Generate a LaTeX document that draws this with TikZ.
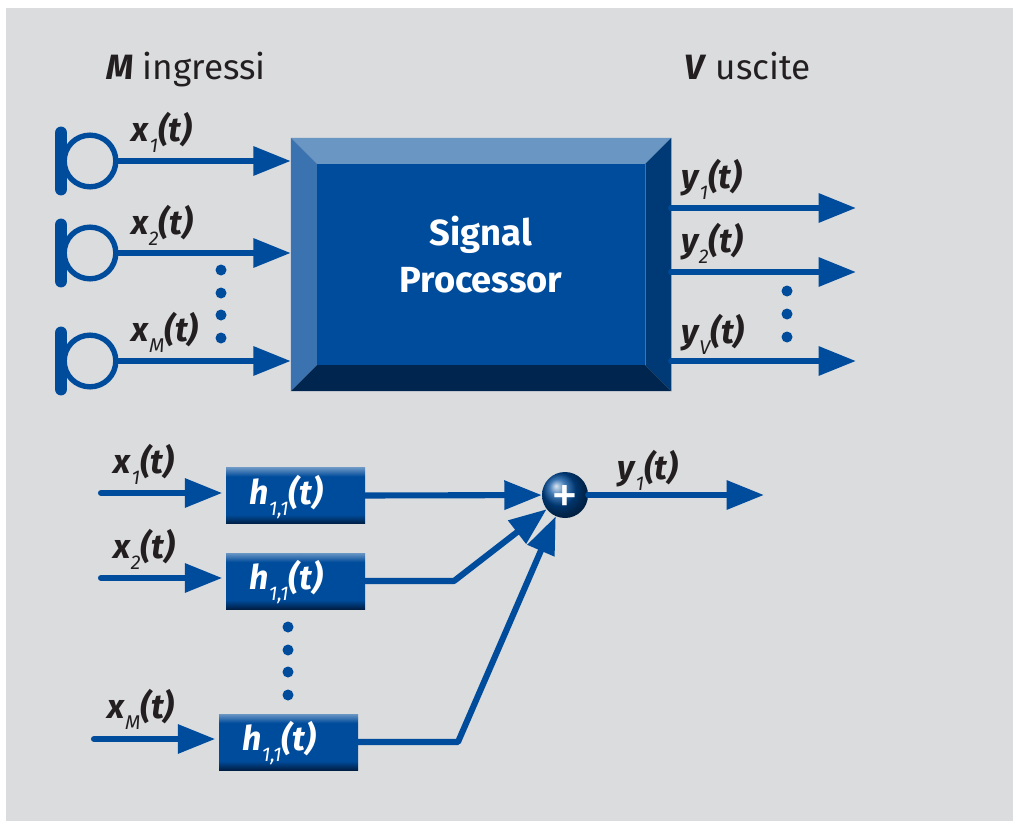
\documentclass[tikz,border=0pt]{standalone}
\usepackage{fontspec}
\setmainfont{Fira Sans}
\usetikzlibrary{arrows.meta}
\definecolor{panel}{HTML}{DADCDE}
\definecolor{sigblue}{HTML}{004C9C}
\definecolor{bevtop}{HTML}{6A96C4}
\definecolor{bevleft}{HTML}{3B72B0}
\definecolor{bevright}{HTML}{003A76}
\definecolor{bevbot}{HTML}{00264F}
\definecolor{boxlight}{HTML}{6A96C4}
\definecolor{boxdark}{HTML}{001F45}
\definecolor{labelink}{HTML}{231F20}
\pgfdeclareverticalshading{hboxshade}{100bp}{color(0bp)=(boxdark); color(25bp)=(boxdark); color(33bp)=(sigblue); color(67bp)=(sigblue); color(75bp)=(boxlight); color(100bp)=(boxlight)}
\newcommand{\sigl}[2]{{\bfseries\itshape #1\kern0.5pt\raisebox{-0.6ex}{\mdseries\fontsize{17}{17}\selectfont #2}(t)}}

\begin{document}
\begin{tikzpicture}[x=0.03cm,y=-0.03cm]
    \tikzset{wire/.style = {draw=sigblue, line width=5.2pt, line cap=round, -{Triangle[length=32pt,width=24pt]}}}
    \tikzset{mic/.style = {shape=circle, draw=sigblue, line width=4.6pt, minimum size=1.55cm, inner sep=0pt}}
    \tikzset{micbar/.style = {draw=sigblue, line width=11pt, line cap=round}}
    \tikzset{hbox/.style = {shape=rectangle, shading=hboxshade, minimum width=4.17cm, minimum height=1.68cm, inner sep=0pt}}
    \tikzset{hlab/.style = {text=white, inner sep=0pt, font=\fontsize{29}{29}\selectfont}}
    \tikzset{sig/.style = {text=labelink, inner sep=0pt, font=\fontsize{29}{29}\selectfont}}
    \tikzset{head/.style = {text=labelink, inner sep=0pt, anchor=base west, font=\fontsize{30}{30}\selectfont}}
    \tikzset{dot/.style = {shape=circle, fill=sigblue, minimum size=0.33cm, inner sep=0pt}}

    \useasboundingbox (0,0) rectangle (1013,821);
    \fill[panel] (6,8) rectangle (1013,821);

    % headings
    \node[head] (ingressi) at (106,80) {\textbf{\textit{M}} ingressi};
    \node[head] (uscite) at (684,80) {\textbf{\textit{V}} uscite};

    % signal processor
    \node[minimum width=11.4cm, minimum height=7.59cm, inner sep=0pt] (proc) at (481,264.5) {};
    \node[minimum width=9.84cm, minimum height=6.03cm, inner sep=0pt, fill=sigblue] (core) at (481,264.5) {};
    \fill[bevtop] (proc.north west) -- (proc.north east) -- (core.north east) -- (core.north west) -- cycle;
    \fill[bevleft] (proc.north west) -- (core.north west) -- (core.south west) -- (proc.south west) -- cycle;
    \fill[bevright] (proc.north east) -- (core.north east) -- (core.south east) -- (proc.south east) -- cycle;
    \fill[bevbot] (proc.south west) -- (proc.south east) -- (core.south east) -- (core.south west) -- cycle;
    \node[align=center, text=white, font=\fontsize{31}{39.5}\selectfont\bfseries] (title) at (481,254.5) {Signal\\Processor};

    % microphones
    \node[mic] (mic1) at (90,161) {};
    \node[mic] (mic2) at (90,253) {};
    \node[mic] (mic3) at (90,361) {};
    \draw[micbar] (61,133) -- (61,189);
    \draw[micbar] (61,225) -- (61,281);
    \draw[micbar] (61,333) -- (61,389);

    % outputs of the processor
    \coordinate (yend1) at (856,208);
    \coordinate (yend2) at (856,272);
    \coordinate (yend3) at (856,361);

    % upper edges
    \draw[wire] (mic1.east) -- (mic1.east -| proc.west);
    \draw[wire] (mic2.east) -- (mic2.east -| proc.west);
    \draw[wire] (mic3.east) -- (mic3.east -| proc.west);
    \draw[wire] (yend1 -| proc.east) -- (yend1);
    \draw[wire] (yend2 -| proc.east) -- (yend2);
    \draw[wire] (yend3 -| proc.east) -- (yend3);

    % upper labels
    \node[sig] (lx1) at (162,132) {\sigl{x}{1}};
    \node[sig] (lx2) at (162,225) {\sigl{x}{2}};
    \node[sig] (lxm) at (165,332) {\sigl{x}{M}};
    \node[sig] (ly1) at (712,179) {\sigl{y}{1}};
    \node[sig] (ly2) at (712,243) {\sigl{y}{2}};
    \node[sig] (lyv) at (713,334) {\sigl{y}{V}};

    % dots
    \foreach \i/\y in {1/270,2/293,3/315,4/338}
        \node[dot] (da\i) at (221,\y) {};
    \foreach \i/\y in {1/291,2/314,3/337}
        \node[dot] (db\i) at (787,\y) {};
    \foreach \i/\y in {1/627,2/650,3/672,4/695}
        \node[dot] (dc\i) at (288,\y) {};

    % filter boxes
    \node[hbox] (h1) at (295.5,495.5) {};
    \node[hbox] (h2) at (295.5,581) {};
    \node[hbox] (h3) at (288.5,742) {};
    \node[hlab] (lh1) at (286,497) {\sigl{h}{1,1}};
    \node[hlab] (lh2) at (286,582) {\sigl{h}{1,1}};
    \node[hlab] (lh3) at (279,743) {\sigl{h}{1,1}};

    % adder
    \node[shape=circle, ball color=sigblue, minimum size=1.38cm, inner sep=0pt] (sum) at (565,495) {};

    % lower edges
    \coordinate (xin1) at (101,493);
    \coordinate (xin2) at (101,578);
    \coordinate (xin3) at (94,739);
    \coordinate (bend2) at (454,581);
    \coordinate (bend3) at (458,742);
    \coordinate (yout) at (764,495);
    \draw[wire, shorten >=3pt] (xin1) -- (xin1 -| h1.west);
    \draw[wire, shorten >=3pt] (xin2) -- (xin2 -| h2.west);
    \draw[wire, shorten >=3pt] (xin3) -- (xin3 -| h3.west);
    \draw[wire] (h1.east) -- (sum);
    \draw[wire, line join=round] (h2.east) -- (bend2) -- (sum);
    \draw[wire, line join=round] (h3.east) -- (bend3) -- (sum);
    \draw[wire] (sum) -- (yout);
    \node[text=white, inner sep=0pt, font=\fontsize{46}{46}\selectfont] (plus) at (565,500) {+};

    % lower labels
    \node[sig] (lx1b) at (144,464) {\sigl{x}{1}};
    \node[sig] (lx2b) at (144,549) {\sigl{x}{2}};
    \node[sig] (lxmb) at (141,709) {\sigl{x}{M}};
    \node[sig] (ly1b) at (648,470) {\sigl{y}{1}};
\end{tikzpicture}
\end{document}
